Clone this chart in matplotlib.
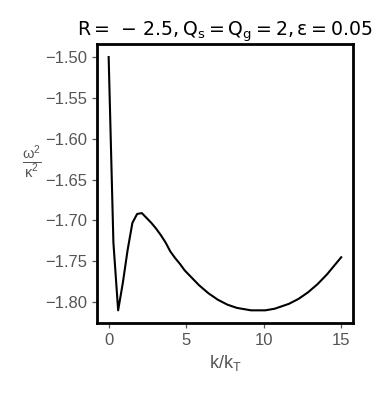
import matplotlib
matplotlib.use("Agg")
import matplotlib.pyplot as plt

k_values = [0.000, 0.306, 0.612, 0.918, 1.224, 1.531, 1.837, 2.143, 2.449, 2.755,
            3.061, 3.367, 3.673, 3.980, 4.286, 4.592, 4.898, 5.204, 5.510, 5.816,
            6.122, 6.429, 6.735, 7.041, 7.347, 7.653, 7.959, 8.265, 8.571, 8.878,
            9.184, 9.490, 9.796, 10.102, 10.408, 10.714, 11.020, 11.327, 11.633, 11.939,
            12.245, 12.551, 12.857, 13.163, 13.469, 13.776, 14.082, 14.388, 14.694, 15.000]
omega_values = [-1.500, -1.727, -1.810, -1.776, -1.736, -1.703, -1.692, -1.691, -1.697, -1.703,
                -1.710, -1.718, -1.727, -1.738, -1.746, -1.753, -1.761, -1.767, -1.773, -1.779,
                -1.784, -1.789, -1.793, -1.797, -1.800, -1.803, -1.805, -1.807, -1.808, -1.809,
                -1.810, -1.810, -1.810, -1.810, -1.809, -1.808, -1.806, -1.804, -1.802, -1.799,
                -1.796, -1.792, -1.788, -1.783, -1.778, -1.772, -1.766, -1.759, -1.752, -1.745]
x_ticks = [0, 5, 10, 15]
y_ticks = [-1.80, -1.75, -1.70, -1.65, -1.60, -1.55, -1.50]

plt.rcParams['font.family'] = ['Liberation Sans', 'DejaVu Sans']
plt.rcParams['mathtext.fontset'] = 'custom'
plt.rcParams['mathtext.rm'] = 'Liberation Sans'
plt.rcParams['mathtext.it'] = 'Liberation Sans'
plt.rcParams['mathtext.default'] = 'regular'

gray = '#555555'
fig = plt.figure(figsize=(3.79, 4.0), dpi=100)
ax = fig.add_axes([0.256, 0.1925, 0.675, 0.6965])
ax.plot(k_values, omega_values, color='black', lw=1.5)
ax.set_xticks(x_ticks)
ax.set_yticks(y_ticks)
ax.set_yticklabels([f"{v:.2f}".replace('-', '\u2212') for v in y_ticks])
for s in ax.spines.values():
    s.set_linewidth(2.0)
    s.set_color('black')
ax.tick_params(colors=gray, labelsize=12, length=3.5, width=0.9)
ax.set_xlabel(r'$k/k_T$', fontsize=13, color=gray)
ax.set_ylabel(r'$\frac{\omega^2}{\kappa^2}$', fontsize=15, color=gray, rotation=0,
              ha='right', va='center')
ax.yaxis.set_label_coords(-0.215, 0.575)
ax.set_title(r'$R=\,-\,2.5, Q_s=Q_g=2, \varepsilon=0.05$', fontsize=13.6,
             color='black', family='DejaVu Sans', math_fontfamily='dejavusans')
fig.savefig('out.png', dpi=100)
